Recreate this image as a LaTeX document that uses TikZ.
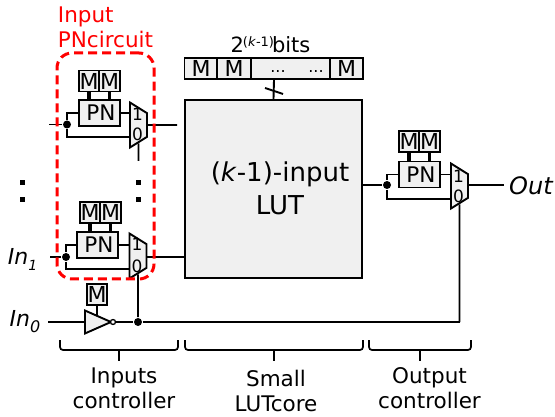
\documentclass[tikz,border=0pt]{standalone}
\usepackage{fontspec}
\setmainfont{DejaVu Sans}
\usetikzlibrary{shapes.geometric}

\begin{document}
\begin{tikzpicture}[x=1pt,y=-1pt,line width=1.9pt,node distance=20.5pt,
	mem/.style={draw,fill=black!6,minimum width=20.5pt,minimum height=21pt,inner sep=0pt,font=\fontsize{22}{26}\selectfont},
	pn/.style={draw,fill=black!6,minimum width=41pt,minimum height=26pt,inner sep=0pt,font=\fontsize{21.5}{26}\selectfont},
	mux/.style={draw,fill=black!6,trapezium,shape border rotate=270,trapezium stretches=true,trapezium left angle=62,trapezium right angle=62,minimum width=45pt,minimum height=17pt,inner sep=0pt},
	muxbit/.style={inner sep=0pt,font=\fontsize{17}{19}\selectfont},
	dot/.style={circle,fill,inner sep=0pt,minimum size=8pt},
	gate/.style={line width=3.5pt},
	txt/.style={inner sep=0pt,align=center,font=\fontsize{21.5}{25}\selectfont},
	side/.style={inner sep=0pt,font=\fontsize{24}{28}\selectfont\itshape},
	bracket/.style={rounded corners=3pt,line width=1.7pt}]
\useasboundingbox (0,0) rectangle (555,417);

% lut and its memory
\node[draw,fill=black!6,minimum width=177pt,minimum height=178pt,inner sep=0pt] (lut) at (273.5,189) {};
\node[txt,font=\fontsize{26}{33}\selectfont] (luttxt) at (280,188.5) {(\textit{k}-1)-input\\LUT};
\node[draw,fill=black!6,minimum width=178pt,minimum height=21pt,inner sep=0pt] (bar) at (274,68.5) {};
\node[mem,minimum width=33pt] (mbar1) at (201,68.5) {M};
\node[mem,minimum width=34pt] (mbar2) at (234,68.5) {M};
\node[mem,minimum width=33pt] (mbar3) at (346.5,68.5) {M};
\node[inner sep=0pt,font=\fontsize{16}{18}\selectfont] (dots1) at (278,72) {...};
\node[inner sep=0pt,font=\fontsize{16}{18}\selectfont] (dots2) at (316,72) {...};
\node[txt,font=\fontsize{21}{25}\selectfont] (bits) at (270.5,45) {2\kern-1pt\raisebox{6pt}{\fontsize{13}{15}\selectfont(\textit{k}-1)}\kern-2pt bits};
\coordinate (tick1) at (265,88);
\coordinate (tick2) at (283,94);
\draw (bar.south) -- (lut.north);
\draw (tick1) -- (tick2);

% first input
\node[mem] (m1) at (89,81) {M};
\node[mem] (m2)[right of=m1] {M};
\node[pn] (pn1) at (99.5,113) {\kern3pt PN};
\node[mux] (mux1) at (138.5,125) {\phantom{0}};
\node[muxbit] (one1) at (137.5,114) {1};
\node[muxbit] (zero1) at (137.5,134) {0};
\node[dot] (dot1) at (67,124.5) {};
\coordinate (in1) at (49,124.5);
\coordinate (sel1) at (130,137);
\coordinate (end1) at (177,125);
\coordinate (low1) at (138.5,161);
\draw[gate] (m1) -- (m1 |- pn1.north);
\draw[gate] (m2) -- (m2 |- pn1.north);
\draw (in1) -- (dot1);
\draw (dot1) |- (pn1.west);
\draw (dot1) |- (sel1);
\draw (pn1.east) -- (pn1.east -| mux1.west);
\draw (mux1.east) -- (end1);
\draw (mux1.south) -- (low1);

% second input
\node[mem] (m3) at (90,212.5) {M};
\node[mem] (m4)[right of=m3] {M};
\node[pn] (pn2) at (97.5,245) {\kern3pt PN};
\node[mux] (mux2) at (138,256) {\phantom{0}};
\node[muxbit] (one2) at (137,244) {1};
\node[muxbit] (zero2) at (137,266) {0};
\node[dot] (dot2) at (66,257) {};
\coordinate (in2) at (50,257);
\coordinate (sel2) at (130,269);
\coordinate (lutin) at (185,257);
\draw[gate] (m3) -- (m3 |- pn2.north);
\draw[gate] (m4) -- (m4 |- pn2.north);
\draw (in2) -- (dot2);
\draw (dot2) |- (pn2.west);
\draw (dot2) |- (sel2);
\draw (pn2.east) -- (pn2.east -| mux2.west);
\draw (mux2.east |- lutin) -- (lutin);

% select line
\node[mem] (m5) at (97,294.5) {M};
\node[draw,fill=black!6,isosceles triangle,isosceles triangle stretches,minimum width=23pt,minimum height=26pt,inner sep=0pt,anchor=west] (inv) at (84,322) {\phantom{0}};
\node[draw,circle,fill=white,inner sep=0pt,minimum size=5pt,line width=1.3pt] (bub) at (113,322) {};
\node[dot] (dot3) at (138,322) {};
\coordinate (in0) at (48,322);
\coordinate (corner) at (459.5,322);
\coordinate (invtop) at (97,316);
\draw (in0) -- (inv.west);
\draw (m5) -- (invtop);
\draw (bub) -- (dot3);
\draw (dot3) -- (corner);
\draw (dot3) -- (mux2.south);

% output
\node[mem] (m6) at (409,141.5) {M};
\node[mem] (m7)[right of=m6] {M};
\node[pn] (pn3) at (419.5,174.5) {\kern3pt PN};
\node[mux] (mux3) at (459.5,186) {\phantom{0}};
\node[muxbit] (one3) at (458.5,176) {1};
\node[muxbit] (zero3) at (458.5,196) {0};
\node[dot] (dot4) at (387,185) {};
\coordinate (lutout) at (362,185);
\coordinate (sel3) at (451,199);
\coordinate (out) at (504,185);
\draw[gate] (m6) -- (m6 |- pn3.north);
\draw[gate] (m7) -- (m7 |- pn3.north);
\draw (lutout) -- (dot4);
\draw (dot4) |- (pn3.west);
\draw (dot4) |- (sel3);
\draw (pn3.east) -- (pn3.east -| mux3.west);
\draw (mux3.east |- out) -- (out);
\draw (corner) -- (mux3.south);

% texts at the sides
\node[side] (outtxt) at (531,186) {Out};
\node[side,font=\fontsize{22}{26}\selectfont\itshape] (in1txt) at (22.5,259) {In\raisebox{-6pt}{\fontsize{14}{16}\selectfont 1}};
\node[side,font=\fontsize{22}{26}\selectfont\itshape] (in0txt) at (25,322) {In\raisebox{-6pt}{\fontsize{16}{18}\selectfont 0}};
\foreach \x/\y/\n in {22/183/a,22/200/b,138/183/c,138/200/d}
	\node[rectangle,fill,inner sep=0pt,minimum size=5pt] (colon\n) at (\x,\y) {};

% brackets
\coordinate (b1a) at (60,340);
\coordinate (b1b) at (178,340);
\coordinate (b1c) at (119,350);
\coordinate (b1d) at (119,361);
\coordinate (b2a) at (185,340);
\coordinate (b2b) at (363,340);
\coordinate (b2c) at (274,350);
\coordinate (b2d) at (274,361);
\coordinate (b3a) at (369,340);
\coordinate (b3b) at (471,340);
\coordinate (b3c) at (420,350);
\coordinate (b3d) at (420,361);
\draw[bracket] (b1a) |- (b1c) -| (b1b);
\draw[bracket] (b2a) |- (b2c) -| (b2b);
\draw[bracket] (b3a) |- (b3c) -| (b3b);
\draw (b1c) -- (b1d);
\draw (b2c) -- (b2d);
\draw (b3c) -- (b3d);
\node[txt] (ctrl1) at (124,388.5) {Inputs\\controller};
\node[txt] (ctrl2) at (276,390.5) {Small\\LUTcore};
\node[txt] (ctrl3) at (429.5,388.5) {Output\\controller};

% red box
\node[draw=red,dashed,dash pattern=on 9pt off 5pt,line width=3pt,rounded corners=15pt,minimum width=97pt,minimum height=226pt,inner sep=0pt] (box) at (105.5,166) {};
\node[txt,text=red,align=left,anchor=north west] (boxtxt) at (57,6) {Input\\PNcircuit};

\end{tikzpicture}
\end{document}
